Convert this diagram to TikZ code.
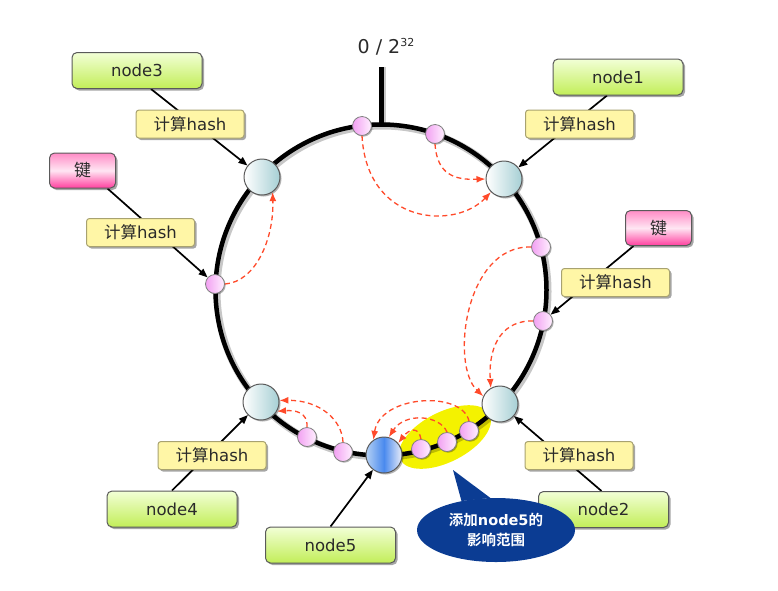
\documentclass[tikz,border=0pt]{standalone}
\usepackage{fontspec}
\setmainfont{DejaVu Sans}
\newfontfamily\cjk{Noto Sans CJK SC}[BoldFont={Noto Sans CJK SC Bold}]
\usetikzlibrary{shapes.geometric,shadows,backgrounds,arrows.meta}
\definecolor{gtop}{HTML}{F2FFD6}
\definecolor{gbot}{HTML}{C2EE58}
\definecolor{boxline}{HTML}{5A5A5A}
\definecolor{txt}{HTML}{2A2A2A}
\definecolor{hfill}{HTML}{FFF6A6}
\definecolor{hline}{HTML}{A8A270}
\definecolor{ktop}{HTML}{FF8CC6}
\definecolor{kmid}{HTML}{FFE6F3}
\definecolor{kbot}{HTML}{FF3F9F}
\definecolor{teal}{HTML}{A6CFD4}
\definecolor{pinkl}{HTML}{F2A0F2}
\definecolor{pinkr}{HTML}{FFF0FF}
\definecolor{bluel}{HTML}{B4D0F4}
\definecolor{bluem}{HTML}{4A8AEE}
\definecolor{bluer}{HTML}{ECEEF8}
\definecolor{redd}{HTML}{FF4A2A}
\definecolor{calloutc}{HTML}{0B3C93}
\definecolor{hl}{HTML}{F4F200}
\begin{document}
\begin{tikzpicture}[x=1pt,y=-1pt,
  shad/.style={drop shadow={shadow xshift=2pt,shadow yshift=-2pt,opacity=0.35,fill=black}},
  greenbox/.style={shad,draw=boxline,line width=1pt,rounded corners=5pt,top color=gtop,bottom color=gbot,
    minimum width=130pt,minimum height=36pt,inner sep=0pt,text=txt,font=\fontsize{16.5}{18}\selectfont},
  hashbox/.style={shad,draw=hline,line width=1pt,rounded corners=3pt,fill=hfill,
    minimum width=108pt,minimum height=28pt,inner sep=0pt,text=txt,font=\fontsize{16.5}{18}\selectfont},
  keybox/.style={shad,draw=boxline,line width=1pt,rounded corners=5pt,top color=ktop,bottom color=kbot,middle color=kmid,
    minimum width=66pt,minimum height=35pt,inner sep=0pt,text=txt,font=\fontsize{17}{18}\selectfont},
  bigc/.style={circle,drop shadow={shadow xshift=1.5pt,shadow yshift=-1.5pt,opacity=0.3,fill=black},
    draw=boxline,line width=1pt,minimum size=36pt,inner sep=0pt,left color=white,right color=teal},
  bluec/.style={bigc,left color=bluel,right color=bluer,middle color=bluem},
  smallc/.style={circle,drop shadow={shadow xshift=1.2pt,shadow yshift=-1.2pt,opacity=0.3,fill=black},
    draw=gray,line width=0.8pt,minimum size=19pt,inner sep=0pt,left color=pinkl,right color=pinkr},
  conn/.style={line width=1.7pt,black,-{Triangle[length=9pt,width=7pt]}},
  redarr/.style={draw=redd,line width=1.3pt,dash pattern=on 5pt off 3.5pt,-{Latex[length=9pt,width=7pt]}}
]
\useasboundingbox (0,0) rectangle (778,590);
\coordinate (O) at (381,290);
\coordinate (tk) at (381,67);
\coordinate (ttop) at (381,126);

% boxes
\node[greenbox] (n3) at (137,70.5) {node3};
\node[greenbox] (n1) at (618,77) {node1};
\node[greenbox] (n4) at (172,509) {node4};
\node[greenbox] (n5) at (330.5,545) {node5};
\node[greenbox] (n2) at (603.5,509.5) {node2};
\node[keybox] (kL) at (82.5,170.5) {\cjk 键};
\node[keybox] (kR) at (658.5,228) {\cjk 键};

% hash boxes
\node[hashbox] (h3) at (190,124) {{\cjk 计算}hash};
\node[hashbox] (h1) at (579.5,124) {{\cjk 计算}hash};
\node[hashbox] (hL) at (140.5,232.5) {{\cjk 计算}hash};
\node[hashbox] (hR) at (615.5,282.5) {{\cjk 计算}hash};
\node[hashbox] (h4) at (212,455.5) {{\cjk 计算}hash};
\node[hashbox] (h2) at (579,455.5) {{\cjk 计算}hash};

% ring nodes
\node[bigc] (c3) at (262,177) {};
\node[bigc] (c1) at (504,179) {};
\node[bigc] (c4) at (261,402) {};
\node[bigc] (c2) at (500,404) {};
\node[bluec] (c5) at (384,455) {};
\node[smallc] (t1) at (362,126) {};
\node[smallc] (t2) at (435,134) {};
\node[smallc] (r1) at (541,247) {};
\node[smallc] (r2) at (543,321) {};
\node[smallc] (l1) at (215,284) {};
\node[smallc] (sa) at (307,437) {};
\node[smallc] (sb) at (343,452) {};
\node[smallc] (sc) at (421,449) {};
\node[smallc] (sd) at (447,442) {};
\node[smallc] (se) at (469,431) {};

% label
\node[text=txt,font=\fontsize{19}{20}\selectfont] (lab) at (386,47) {0 / 2\raisebox{7pt}{\fontsize{11}{11}\selectfont 32}};

\begin{scope}[on background layer]
  \fill[hl,rotate around={27:(445,437)}] (445,437) ellipse[x radius=50,y radius=25];
  \draw[line width=7pt,black,opacity=0.22] ([shift={(1.5,1.5)}]O) circle[radius=165.5];
  \draw[line width=4.5pt,black] (O) circle[radius=165.5];
  \draw[line width=7pt,black,opacity=0.22] ([shift={(1.5,0)}]tk) -- ([shift={(1.5,0)}]ttop);
  \draw[line width=5pt,black] (tk) -- (ttop);
  \draw[conn] ([xshift=14pt]n3.south) -- (c3);
  \draw[conn] ([xshift=-11pt]n1.south) -- (c1);
  \draw[conn] ([xshift=25pt]kL.south) -- (l1);
  \draw[conn] ([xshift=-25pt]kR.south) -- (r2);
  \draw[conn] (n4.north) -- (c4);
  \draw[conn] (n5.north) -- (c5);
  \draw[conn] ([xshift=-2pt]n2.north) -- (c2);
\end{scope}

% red dashed arrows
\draw[redarr] (t1.south) .. controls (367,225) and (455,230) .. (c1.south west);
\draw[redarr] (t2.south) .. controls (437,175) and (455,180) .. (c1.west);
\draw[redarr] (l1.east) .. controls (255,282) and (274,240) .. (c3.-55);
\draw[redarr] (r1.west) .. controls (465,245) and (450,365) .. (c2.155);
\draw[redarr] (r2.west) .. controls (505,320) and (488,342) .. (c2.120);
\draw[redarr] (se.north) .. controls (462,390) and (380,395) .. (c5.125);
\draw[redarr] (sd.north) .. controls (440,415) and (405,412) .. (c5.75);
\draw[redarr] (sc.north) .. controls (419,427) and (410,428) .. (c5.40);
\draw[redarr] (sb.north) .. controls (342,420) and (320,400) .. (c4.5);
\draw[redarr] (sa.north) .. controls (308,412) and (295,410) .. (c4.-30);

% callout
\coordinate (ctip) at (453,470);
\node[ellipse,fill=calloutc,minimum width=158pt,minimum height=64pt,inner sep=0pt,text=white,align=center,
  font=\fontsize{14.5}{20}\selectfont\bfseries] (co) at (496,530) {{\cjk 添加}node5{\cjk 的}\\{\cjk 影响范围}};
\fill[calloutc] (ctip) -- (co.140) -- (co.100) -- cycle;
\end{tikzpicture}
\end{document}
